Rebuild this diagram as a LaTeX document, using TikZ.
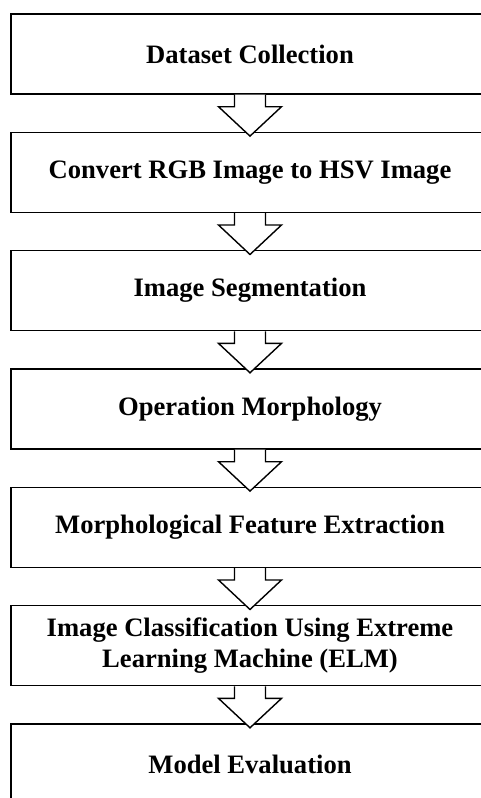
\documentclass[tikz,border=0pt]{standalone}
\usepackage{fontspec}
\setmainfont{Liberation Serif}
\usetikzlibrary{calc}
\tikzset{
  stepbox/.style={draw=black, line width=1.4pt, fill=white, rectangle,
    minimum width=478pt, minimum height=80pt, inner sep=0pt,
    font=\bfseries\fontsize{26.6}{28}\selectfont, align=center},
  flowarrow/.style={draw=black, line width=1.4pt, fill=white, line join=miter}
}
\newcommand{\blockarrow}[2]{%
  \draw[flowarrow] ($(#1.south)+(-15.5,0)$) -- ++(0,12) -- ++(-16,0)
    -- ($(#2.north)+(0,4.5)$) -- ($(#1.south)+(31.5,12)$) -- ++(-16,0) -- ++(0,-12);
}
\begin{document}
\begin{tikzpicture}[x=1pt,y=-1pt]
\useasboundingbox (0,0) rectangle (481,798);
\clip (0,0) rectangle (481,798);
\node[stepbox] (b1) at (250,54) {Dataset Collection};
\node[stepbox] (b2) at (250,172.3) {Convert RGB Image to HSV Image};
\node[stepbox] (b3) at (250,290.7) {Image Segmentation};
\node[stepbox] (b4) at (250,409) {Operation Morphology};
\node[stepbox] (b5) at (250,527.3) {Morphological Feature Extraction};
\node[stepbox] (b6) at (250,645.7) {Image Classification Using Extreme\\[3pt]Learning Machine (ELM)};
\node[stepbox] (b7) at (250,764) {Model Evaluation};
\blockarrow{b1}{b2}
\blockarrow{b2}{b3}
\blockarrow{b3}{b4}
\blockarrow{b4}{b5}
\blockarrow{b5}{b6}
\blockarrow{b6}{b7}
\end{tikzpicture}
\end{document}
